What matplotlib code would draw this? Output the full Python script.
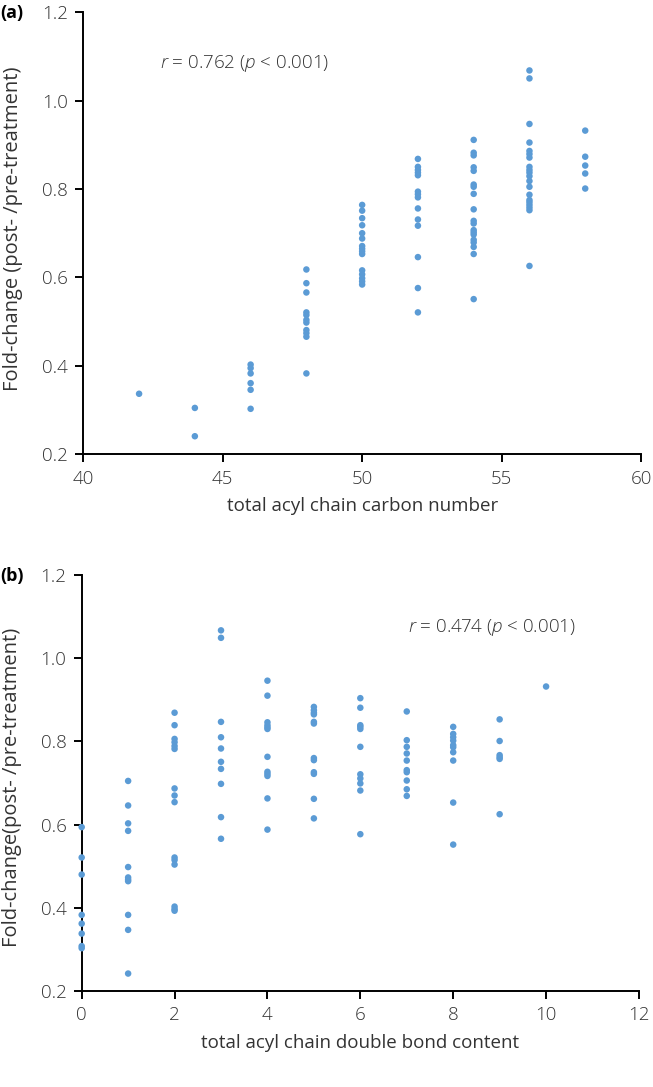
import matplotlib
matplotlib.use("Agg")
import matplotlib.pyplot as plt
import numpy as np

# ---- Panel (a): total acyl chain carbon number vs fold-change ----
carbon_48 = [0.618, 0.587, 0.566, 0.521, 0.515, 0.504, 0.498, 0.481, 0.474, 0.466, 0.383]
a_x_groups = [42, 44, 46, 48, 50, 52, 54, 56, 58]
a_y_groups = [
    [0.337],
    [0.305, 0.241],
    [0.403, 0.395, 0.383, 0.361, 0.346, 0.303],
    carbon_48,
    [0.764, 0.751, 0.734, 0.718, 0.700, 0.688, 0.671, 0.665, 0.659, 0.653,
     0.616, 0.607, 0.598, 0.591, 0.584],
    [0.868, 0.850, 0.843, 0.837, 0.831, 0.794, 0.788, 0.781, 0.756, 0.731,
     0.717, 0.646, 0.576, 0.521],
    [0.911, 0.882, 0.876, 0.849, 0.841, 0.810, 0.805, 0.789, 0.754, 0.728,
     0.722, 0.707, 0.702, 0.697, 0.685, 0.679, 0.669, 0.653, 0.551],
    [1.068, 1.050, 0.947, 0.905, 0.886, 0.879, 0.871, 0.850, 0.843, 0.837,
     0.829, 0.818, 0.805, 0.787, 0.775, 0.770, 0.764, 0.758, 0.752, 0.626],
    [0.932, 0.873, 0.853, 0.835, 0.801],
]

# ---- Panel (b): total acyl chain double bond content vs fold-change ----
b_x_groups = [0, 1, 2, 3, 4, 5, 6, 7, 8, 9, 10]
b_y_groups = [
    [0.594, 0.521, 0.480, 0.383, 0.362, 0.338, 0.308, 0.303],
    [0.705, 0.646, 0.603, 0.585, 0.498, 0.473, 0.468, 0.464, 0.383, 0.347, 0.242],
    [0.869, 0.839, 0.806, 0.798, 0.789, 0.782, 0.687, 0.670, 0.654, 0.521,
     0.515, 0.504, 0.403, 0.397, 0.393],
    [1.067, 1.049, 0.847, 0.810, 0.783, 0.751, 0.734, 0.698, 0.618, 0.566],
    [0.946, 0.910, 0.846, 0.839, 0.834, 0.830, 0.763, 0.727, 0.722, 0.717,
     0.663, 0.588],
    [0.883, 0.875, 0.869, 0.865, 0.847, 0.843, 0.760, 0.755, 0.726, 0.722,
     0.662, 0.615],
    [0.904, 0.881, 0.839, 0.835, 0.830, 0.787, 0.721, 0.711, 0.699, 0.682, 0.577],
    [0.872, 0.803, 0.787, 0.771, 0.754, 0.731, 0.726, 0.706, 0.685, 0.669],
    [0.835, 0.818, 0.810, 0.802, 0.791, 0.786, 0.774, 0.754, 0.653, 0.552],
    [0.853, 0.801, 0.767, 0.762, 0.758, 0.625],
    [0.932],
]

y_ticks = [0.2, 0.4, 0.6, 0.8, 1.0, 1.2]
a_x_ticks = [40, 45, 50, 55, 60]
b_x_ticks = [0, 2, 4, 6, 8, 10, 12]

plt.rcParams['font.family'] = ['Open Sans', 'DejaVu Sans']
plt.rcParams['font.weight'] = 'light'
plt.rcParams['mathtext.fontset'] = 'custom'
plt.rcParams['mathtext.rm'] = 'Open Sans:light'
plt.rcParams['mathtext.it'] = 'Open Sans:italic:light'

DOT = '#5b9bd5'
TXT = '#333333'
FS = 13.5


def flatten(xs, ys):
    fx, fy = [], []
    for x, g in zip(xs, ys):
        fx += [x] * len(g)
        fy += list(g)
    return np.array(fx), np.array(fy)


fig = plt.figure(figsize=(6.53, 10.87), dpi=100)
ax_a = fig.add_axes([0.1276, 0.582, 0.854, 0.4069])
ax_b = fig.add_axes([0.1251, 0.0883, 0.8534, 0.3827])


def style(ax, xlim, xticks, xlabel, ylabel):
    ax.set_xlim(*xlim)
    ax.set_ylim(0.2, 1.2)
    ax.set_xticks(xticks)
    ax.set_yticks(y_ticks)
    ax.set_yticklabels([f"{t:.1f}" for t in y_ticks])
    for s in ['top', 'right']:
        ax.spines[s].set_visible(False)
    for s in ['left', 'bottom']:
        ax.spines[s].set_linewidth(1.4)
        ax.spines[s].set_color('black')
    ax.tick_params(direction='out', length=6, width=1.4, colors='black',
                   labelcolor=TXT, labelsize=FS, pad=5)
    ax.set_xlabel(xlabel, fontsize=FS, color=TXT, labelpad=7)
    ax.set_ylabel(ylabel, fontsize=14.5, color=TXT)


xa, ya = flatten(a_x_groups, a_y_groups)
ax_a.scatter(xa, ya, s=22, color=DOT, edgecolors='none', clip_on=False, zorder=3)
style(ax_a, (40, 60), a_x_ticks, 'total acyl chain carbon number',
      'Fold-change (post- /pre-treatment)')
ax_a.yaxis.set_label_coords(-0.108, 0.51)
ax_a.text(45.8, 1.083, r'$\mathit{r}$ = 0.762 ($\mathit{p}$ < 0.001)',
          ha='center', va='center', fontsize=FS, color=TXT)

xb, yb = flatten(b_x_groups, b_y_groups)
ax_b.scatter(xb, yb, s=22, color=DOT, edgecolors='none', clip_on=False, zorder=3)
style(ax_b, (0, 12), b_x_ticks, 'total acyl chain double bond content',
      'Fold-change(post- /pre-treatment)')
ax_b.yaxis.set_label_coords(-0.108, 0.49)
ax_b.text(8.84, 1.073, r'$\mathit{r}$ = 0.474 ($\mathit{p}$ < 0.001)',
          ha='center', va='center', fontsize=FS, color=TXT)

fig.text(0.0, 1 - 13 / 1087, '(a)', fontweight='bold', fontsize=13,
         ha='left', va='center', color='black')
fig.text(0.0, 1 - 576 / 1087, '(b)', fontweight='bold', fontsize=13,
         ha='left', va='center', color='black')

fig.savefig('out.png', dpi=100)
